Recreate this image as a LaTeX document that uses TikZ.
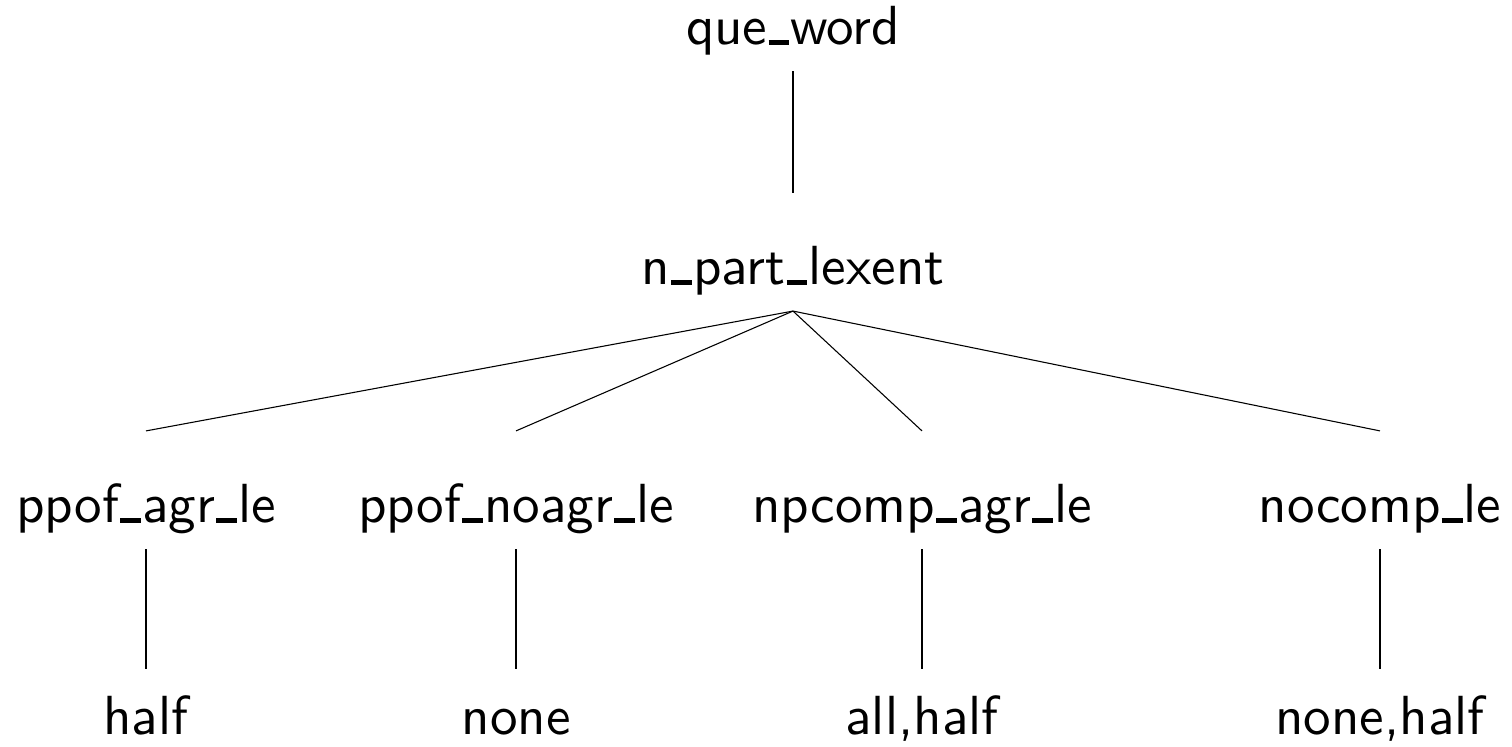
\documentclass[tikz,border=0pt]{standalone}
% Bar-style underscore sitting on the baseline
\newcommand{\usbar}{\kern.02em\rule{.38em}{.09em}\kern.02em}
\begin{document}
\begin{tikzpicture}[x=0.185185pt, y=-0.185185pt,
  every node/.style={font=\fontsize{10.2}{12}\sffamily, inner sep=0pt, anchor=base},
  inner/.style={text height=16.85pt, text depth=4.63pt},
  leaf/.style={text height=12.04pt, text depth=0pt},
  edge/.style={line width=0.2pt}]
\useasboundingbox (0,0) rectangle (1512,747);
% levels
\node[inner] (root) at (793,45) {que\usbar word};
\node[inner] (mid) at (793,285) {n\usbar part\usbar lexent};
\node[inner] (c1) at (146,523) {ppof\usbar agr\usbar le};
\node[inner] (c2) at (516,523) {ppof\usbar noagr\usbar le};
\node[inner] (c3) at (922,523) {npcomp\usbar agr\usbar le};
\node[inner] (c4) at (1380,523) {nocomp\usbar le};
\node[leaf] (l1) at (146,735) {half};
\node[leaf] (l2) at (516,735) {none};
\node[leaf] (l3) at (922,735) {all,half};
\node[leaf] (l4) at (1380,735) {none,half};
% branches
\draw[edge] (root.south) -- (mid.north);
\foreach \c in {c1,c2,c3,c4} \draw[edge] (mid.south) -- (\c.north);
\draw[edge] (c1.south) -- (l1.north);
\draw[edge] (c2.south) -- (l2.north);
\draw[edge] (c3.south) -- (l3.north);
\draw[edge] (c4.south) -- (l4.north);
\end{tikzpicture}
\end{document}
